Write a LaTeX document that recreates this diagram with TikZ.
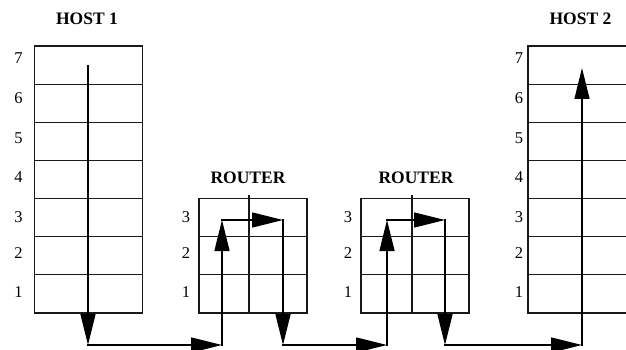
\documentclass[tikz,border=0pt]{standalone}
\usepackage{fontspec}
\setmainfont{Liberation Serif}
\usetikzlibrary{arrows.meta}
\begin{document}
\begin{tikzpicture}[x=1pt,y=-1pt,
  cell/.style={draw=black!90, line width=1.2pt, minimum width=108pt, minimum height=38.14pt, inner sep=0pt},
  flow/.style={draw=black, line width=1.3pt, line cap=rect, -{Triangle[length=31pt,width=15pt]}},
  midline/.style={draw=black!90, line width=1.2pt},
  lbl/.style={font=\fontsize{16.5}{16.5}\selectfont, inner sep=0pt},
  ttl/.style={font=\bfseries\fontsize{17.5}{17.5}\selectfont, inner sep=0pt}]
\clip (0,0) rectangle (626,350);
\fill[white] (0,0) rectangle (626,350);
% titles
\node[ttl] (t1) at (87,19) {HOST 1};
\node[ttl] (t2) at (580.5,19) {HOST 2};
\node[ttl] (t3) at (248,178) {ROUTER};
\node[ttl] (t4) at (416,178) {ROUTER};
% host stacks
\foreach \n/\ly in {7/58,6/98,5/138,4/177,3/217,2/253,1/292}{
  \pgfmathsetmacro\yc{46+38.14*(7-\n)+19.07}
  \node[cell] (ha\n) at (88.5,\yc) {};
  \node[cell] (hb\n) at (582,\yc) {};
  \node[lbl] (la\n) at (18.5,\ly) {\n};
  \node[lbl] (lb\n) at (519,\ly) {\n};
}
% routers
\foreach \n/\ly in {3/217,2/253,1/292}{
  \pgfmathsetmacro\yc{46+38.14*(7-\n)+19.07}
  \node[cell] (ra\n) at (253,\yc) {};
  \node[cell] (rb\n) at (415,\yc) {};
  \node[lbl] (lra\n) at (186,\ly) {\n};
  \node[lbl] (lrb\n) at (348,\ly) {\n};
}
% router middle lines
\coordinate (ma) at (249,195);
\coordinate (mb) at (412,195);
\draw[midline] (ma) -- (ma |- ra1.south);
\draw[midline] (mb) -- (mb |- rb1.south);
% data path
\coordinate (c0) at (88,66);
\coordinate (c1) at (88,345);
\coordinate (c2) at (222,345);
\coordinate (c3) at (222,220);
\coordinate (c4) at (283,220);
\coordinate (c5) at (283,345);
\coordinate (c6) at (387,345);
\coordinate (c7) at (387,220);
\coordinate (c8) at (445,220);
\coordinate (c9) at (445,345);
\coordinate (c10) at (582,345);
\coordinate (c11) at (582,68);
\draw[flow] (c0) -- (c1);
\draw[flow] (c1) -- (c2);
\draw[flow] (c2) -- (c3);
\draw[flow] (c3) -- (c4);
\draw[flow] (c4) -- (c5);
\draw[flow] (c5) -- (c6);
\draw[flow] (c6) -- (c7);
\draw[flow] (c7) -- (c8);
\draw[flow] (c8) -- (c9);
\draw[flow] (c9) -- (c10);
\draw[flow] (c10) -- (c11);
\end{tikzpicture}
\end{document}
